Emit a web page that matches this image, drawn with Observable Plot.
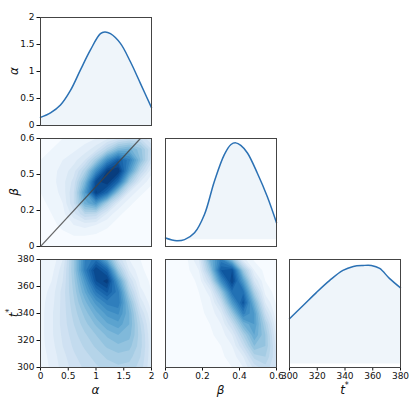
<!DOCTYPE html>
<html><head><meta charset="utf-8">
<script src="https://cdn.jsdelivr.net/npm/d3@7"></script>
<script src="https://cdn.jsdelivr.net/npm/@observablehq/plot@0.6"></script>
<style>
body{margin:0;background:#fff}
#chart{position:relative;width:416px;height:399px;overflow:hidden;font-family:"DejaVu Sans",sans-serif}
#chart svg{position:absolute}
</style></head><body><div id="chart"></div>
<script>
// ---------- data ----------
// marginal posterior of alpha
const alphaX = [0, 0.18, 0.36, 0.54, 0.72, 0.90, 1.08, 1.16, 1.26, 1.44, 1.62, 1.80, 2.0];
const alphaDensity = [0.15, 0.235, 0.38, 0.65, 1.03, 1.40, 1.70, 1.73, 1.70, 1.52, 1.18, 0.78, 0.33];
// marginal posterior of beta
const betaX = [0, 0.059, 0.103, 0.157, 0.21, 0.264, 0.318, 0.354, 0.38, 0.407, 0.443, 0.496, 0.55, 0.6];
const betaDensity = [0.06, -0.04, 0.0, 0.25, 0.91, 2.13, 3.11, 3.48, 3.54, 3.45, 3.17, 2.44, 1.58, 0.62];
// marginal posterior of t*
const tX = [300, 310, 319.5, 329, 338.5, 346, 353, 359, 365, 372, 380];
const tDensity = [0.455, 0.59, 0.72, 0.84, 0.94, 0.98, 0.99, 0.99, 0.96, 0.86, 0.765];

// 2D density grids (rows listed from top of panel to bottom)
const gridAlpha = [0, 0.2, 0.4, 0.6, 0.8, 1.0, 1.2, 1.4, 1.6, 1.8, 2.0];
const gridBeta = [0.6, 0.54, 0.48, 0.42, 0.36, 0.30, 0.24, 0.18, 0.12, 0.06, 0];
const gridBetaCols = [0, 0.06, 0.12, 0.18, 0.24, 0.30, 0.36, 0.42, 0.48, 0.54, 0.6];
const gridT = [380, 372, 364, 356, 348, 340, 332, 324, 316, 308, 300];

const densAlphaBeta = [
  [0.03,0.04,0.05,0.06,0.08,0.10,0.14,0.20,0.25,0.25,0.15],
  [0.04,0.05,0.07,0.09,0.12,0.18,0.32,0.48,0.52,0.42,0.25],
  [0.05,0.07,0.10,0.13,0.20,0.38,0.66,0.85,0.72,0.45,0.22],
  [0.06,0.08,0.12,0.18,0.34,0.66,0.96,1.00,0.62,0.30,0.12],
  [0.06,0.08,0.13,0.22,0.48,0.92,1.00,0.80,0.38,0.15,0.06],
  [0.05,0.07,0.12,0.25,0.60,0.96,0.80,0.42,0.15,0.06,0.03],
  [0.04,0.06,0.10,0.25,0.52,0.62,0.36,0.15,0.06,0.03,0.02],
  [0.03,0.05,0.08,0.18,0.30,0.28,0.14,0.06,0.03,0.02,0.02],
  [0.03,0.04,0.06,0.10,0.12,0.10,0.06,0.03,0.02,0.02,0.02],
  [0.02,0.03,0.04,0.05,0.05,0.04,0.03,0.02,0.02,0.02,0.02],
  [0.02,0.02,0.03,0.03,0.03,0.03,0.02,0.02,0.02,0.02,0.02]
];
const densAlphaT = [
  [0.05,0.06,0.15,0.40,0.70,0.78,0.55,0.25,0.10,0.05,0.03],
  [0.05,0.08,0.18,0.40,0.72,0.95,0.82,0.40,0.15,0.06,0.03],
  [0.06,0.10,0.20,0.38,0.62,0.90,0.98,0.60,0.25,0.08,0.04],
  [0.07,0.12,0.22,0.36,0.55,0.75,0.86,0.72,0.35,0.12,0.05],
  [0.08,0.13,0.22,0.34,0.48,0.62,0.72,0.74,0.45,0.18,0.07],
  [0.08,0.14,0.22,0.32,0.42,0.53,0.62,0.66,0.50,0.25,0.10],
  [0.08,0.14,0.22,0.30,0.38,0.46,0.54,0.58,0.50,0.30,0.13],
  [0.08,0.14,0.21,0.28,0.34,0.40,0.46,0.50,0.47,0.32,0.15],
  [0.08,0.13,0.20,0.26,0.31,0.36,0.41,0.44,0.42,0.32,0.16],
  [0.07,0.12,0.18,0.24,0.28,0.32,0.36,0.38,0.37,0.30,0.16],
  [0.07,0.11,0.17,0.22,0.26,0.29,0.32,0.34,0.33,0.28,0.15]
];
const densBetaT = [
  [0.02,0.03,0.05,0.15,0.50,0.72,0.45,0.12,0.04,0.02,0.02],
  [0.02,0.03,0.04,0.10,0.40,0.85,0.90,0.40,0.10,0.03,0.02],
  [0.02,0.02,0.03,0.06,0.25,0.66,0.95,0.60,0.20,0.05,0.02],
  [0.02,0.02,0.03,0.05,0.12,0.40,0.78,0.78,0.35,0.08,0.03],
  [0.02,0.02,0.03,0.04,0.08,0.25,0.60,0.88,0.50,0.15,0.04],
  [0.02,0.02,0.02,0.04,0.06,0.15,0.40,0.72,0.60,0.25,0.06],
  [0.02,0.02,0.02,0.03,0.05,0.10,0.25,0.50,0.60,0.35,0.10],
  [0.02,0.02,0.02,0.03,0.04,0.07,0.15,0.35,0.55,0.40,0.14],
  [0.02,0.02,0.02,0.03,0.03,0.05,0.10,0.25,0.45,0.40,0.18],
  [0.02,0.02,0.02,0.02,0.03,0.04,0.07,0.15,0.32,0.35,0.20],
  [0.02,0.02,0.02,0.02,0.02,0.03,0.05,0.10,0.22,0.28,0.20]
];

// reference line beta = alpha/3
const refLineAlpha = [0, 1.8];
const refLineBeta = [0, 0.6];

// tick values and labels
const alphaTicks = [0, 0.5, 1, 1.5, 2];
const alphaTickLabels = ["0", "0.5", "1", "1.5", "2"];
const betaTicks = [0, 0.2, 0.4, 0.6];
const betaLeftTickLabels = ["0", "0.2", "0.5", "0.6"];
const betaBottomTickLabels = ["0", "0.2", "0.4", "0.6"];
const tTicks = [300, 320, 340, 360, 380];
const tTickLabels = ["300", "320", "340", "360", "380"];
const contourLevels = [0,0.05,0.1,0.15,0.2,0.25,0.3,0.35,0.4,0.45,0.5,0.55,0.6,0.65,0.7,0.75,0.8,0.85,0.9,0.95];

// ---------- drawing ----------
const LINE = "#2b71b4";
const chart = document.getElementById("chart");
const ML = 40, MT = 6, MR = 14, MB = 34;
const FW = 111, FH = 108;
const colX = [40, 165, 289];
const rowY = [17, 138, 259];

const fmt = (ticks, labels) => { const m = new Map(ticks.map((t, i) => [t, labels[i]])); return d => m.get(d); };
const axB = (ticks, labels) => Plot.axisX({ticks, tickFormat: fmt(ticks, labels), tickSize: 3.5, tickPadding: 2, label: null, anchor: "bottom"});
const axL = (ticks, labels) => Plot.axisY({ticks, tickFormat: fmt(ticks, labels), tickSize: 3.5, tickPadding: 2.5, label: null, anchor: "left"});

function panel(col, row, xd, yd, marks, ylab, xlab) {
  const svg = Plot.plot({
    width: FW + ML + MR, height: FH + MT + MB,
    marginLeft: ML, marginTop: MT, marginRight: MR, marginBottom: MB,
    style: {background: "none", fontFamily: "DejaVu Sans", fontSize: "9px", color: "#111", overflow: "visible"},
    x: {domain: xd, axis: null},
    y: {domain: yd, axis: null},
    color: {type: "linear", scheme: "blues", domain: [0, 1]},
    marks: [...marks, Plot.frame({stroke: "#444", strokeWidth: 1})]
  });
  svg.style.left = (colX[col] - ML) + "px";
  svg.style.top = (rowY[row] - MT) + "px";
  const s = d3.select(svg);
  const addLab = (sel, lab) => {
    sel.attr("font-family", "DejaVu Sans").attr("font-size", 12).attr("font-style", "italic")
      .attr("text-anchor", "middle").attr("dominant-baseline", "middle").attr("fill", "#111");
    if (lab === "t*") {
      sel.text("t");
      sel.append("tspan").attr("baseline-shift", "super").attr("font-size", 8).attr("font-style", "normal").text("*");
    } else sel.text(lab);
  };
  if (ylab) addLab(s.append("text").attr("transform", `translate(${ML - 26},${MT + FH / 2}) rotate(-90)`), ylab);
  if (xlab) addLab(s.append("text").attr("x", ML + FW / 2).attr("y", MT + FH + 23), xlab);
  chart.appendChild(svg);
}

const marg = (xs, ys) => xs.map((x, i) => ({x, y: ys[i]}));
const gridOpts = (xs, ys) => {
  const dx = (xs[1] - xs[0]) / 2, dy = (ys[1] - ys[0]) / 2;
  return {x1: xs[0] - dx, x2: xs[xs.length - 1] + dx, y1: ys[0] - dy, y2: ys[ys.length - 1] + dy,
          width: xs.length, height: ys.length, value: d => d, fill: "value", thresholds: contourLevels, clip: true};
};

// (1,1) alpha marginal
const aData = marg(alphaX, alphaDensity);
panel(0, 0, [0, 2], [0, 2], [
  Plot.areaY(aData, {x: "x", y: "y", fill: "#1f77b4", fillOpacity: 0.07, curve: "catmull-rom"}),
  Plot.lineY(aData, {x: "x", y: "y", stroke: LINE, strokeWidth: 1.5, curve: "catmull-rom"}),
  axL(alphaTicks, alphaTickLabels)
], "α", null);

// (2,1) alpha-beta
panel(0, 1, [0, 2], [0, 0.6], [
  Plot.contour(densAlphaBeta.flat(), gridOpts(gridAlpha, gridBeta)),
  Plot.line(refLineAlpha.map((a, i) => ({a, b: refLineBeta[i]})), {x: "a", y: "b", stroke: "#444", strokeOpacity: 0.8, strokeWidth: 1.2, clip: true}),
  axL(betaTicks, betaLeftTickLabels)
], "β", null);

// (2,2) beta marginal
const bData = marg(betaX, betaDensity);
panel(1, 1, [0, 0.6], [-0.25, 3.7], [
  Plot.areaY(bData, {x: "x", y: "y", fill: "#1f77b4", fillOpacity: 0.07, curve: "catmull-rom"}),
  Plot.lineY(bData, {x: "x", y: "y", stroke: LINE, strokeWidth: 1.5, curve: "catmull-rom"})
], null, null);

// (3,1) alpha-t*
panel(0, 2, [0, 2], [300, 380], [
  Plot.contour(densAlphaT.flat(), gridOpts(gridAlpha, gridT)),
  axL(tTicks, tTickLabels),
  axB(alphaTicks, alphaTickLabels)
], "t*", "α");

// (3,2) beta-t*
panel(1, 2, [0, 0.6], [300, 380], [
  Plot.contour(densBetaT.flat(), gridOpts(gridBetaCols, gridT)),
  axB(betaTicks, betaBottomTickLabels)
], null, "β");

// (3,3) t* marginal
const tData = marg(tX, tDensity);
panel(2, 2, [300, 380], [-0.035, 1.05], [
  Plot.areaY(tData, {x: "x", y: "y", fill: "#1f77b4", fillOpacity: 0.07, curve: "catmull-rom"}),
  Plot.lineY(tData, {x: "x", y: "y", stroke: LINE, strokeWidth: 1.5, curve: "catmull-rom"}),
  axB(tTicks, tTickLabels)
], null, "t*");
</script></body></html>
